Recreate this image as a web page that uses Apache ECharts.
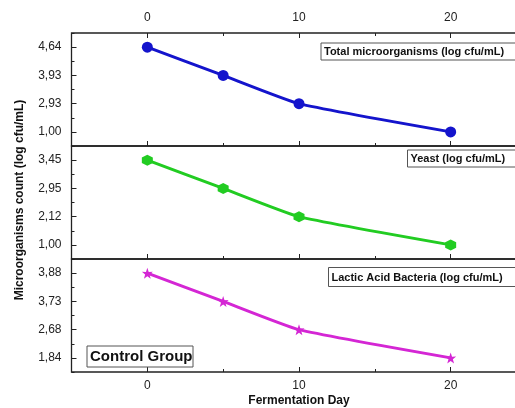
<!DOCTYPE html>
<html>
<head>
<meta charset="utf-8">
<script src="https://cdn.jsdelivr.net/npm/echarts@6/dist/echarts.min.js"></script>
<style>
  html, body { margin: 0; padding: 0; background: #fff; overflow: hidden; }
  #chart { width: 540px; height: 408px; }
</style>
</head>
<body>
<div id="chart"></div>
<script>
// Fermentation days at which counts were taken
const days = [0, 5, 10, 20];
// Counts (log cfu/mL) for each group of microorganisms
const totalCounts = [4.64, 3.93, 2.93, 1.00];
const yeastCounts = [3.45, 2.95, 2.12, 1.00];
const labCounts = [3.88, 3.73, 2.68, 1.84];
// Tick labels
const xTicks = [0, 10, 20];
const xMinorTicks = [5, 15];
const totalTicks = ['1,00', '2,93', '3,93', '4,64'];
const yeastTicks = ['1,00', '2,12', '2,95', '3,45'];
const labTicks = ['1,84', '2,68', '3,73', '3,88'];

const FONT = 'Liberation Sans, Arial, sans-serif';
const fmt = v => v.toFixed(2).replace('.', ',');

const chart = echarts.init(document.getElementById('chart'), null, { renderer: 'canvas' });

const gridLeft = 71.5, gridWidth = 455;
const grids = [
  { left: gridLeft, width: gridWidth, top: 33, height: 113 },
  { left: gridLeft, width: gridWidth, top: 146, height: 113 },
  { left: gridLeft, width: gridWidth, top: 259, height: 113 }
].map(g => Object.assign(g, { show: true, borderColor: '#222', borderWidth: 1.3, backgroundColor: 'transparent' }));

function xMajor(gridIndex, position, labels) {
  return {
    type: 'value', gridIndex, position, min: -5, max: 25,
    axisLine: { show: false, onZero: false },
    splitLine: { show: false },
    axisTick: { show: true, inside: true, length: 5, customValues: xTicks, lineStyle: { color: '#222', width: 1 } },
    axisLabel: { show: labels, customValues: xTicks, fontSize: 12, fontFamily: FONT, color: '#222', margin: position === 'top' ? 9 : 8 }
  };
}
function xMinor(gridIndex, position) {
  return {
    type: 'value', gridIndex, position, min: -5, max: 25,
    axisLine: { show: false, onZero: false }, splitLine: { show: false },
    axisTick: { show: true, inside: true, length: 3, customValues: xMinorTicks, lineStyle: { color: '#222', width: 1 } },
    axisLabel: { show: false }
  };
}
function yMajor(gridIndex, ticks) {
  return {
    type: 'category', gridIndex, position: 'left', data: ticks, boundaryGap: true,
    axisLine: { show: false, onZero: false }, splitLine: { show: false },
    axisTick: { show: true, inside: true, length: 5, alignWithLabel: true, lineStyle: { color: '#222', width: 1 } },
    axisLabel: { fontSize: 12, fontFamily: FONT, color: '#222', margin: 10 }
  };
}
function yMinor(gridIndex, ticks) {
  return {
    type: 'category', gridIndex, position: 'left', data: ticks, boundaryGap: true,
    axisLine: { show: false, onZero: false }, splitLine: { show: false },
    axisTick: { show: true, inside: true, length: 3, lineStyle: { color: '#222', width: 1 } },
    axisLabel: { show: false }
  };
}

const xAxes = [
  xMajor(0, 'bottom', false),   // 0
  xMajor(1, 'bottom', false),   // 1
  xMajor(2, 'bottom', true),    // 2
  xMajor(0, 'top', true),       // 3
  xMinor(0, 'bottom'),
  xMinor(1, 'bottom'),
  xMinor(2, 'bottom'),
  xMinor(0, 'top')
];
const yAxes = [
  yMajor(0, totalTicks),
  yMajor(1, yeastTicks),
  yMajor(2, labTicks),
  yMinor(0, totalTicks),
  yMinor(1, yeastTicks),
  yMinor(2, labTicks)
];

const hexagon = 'path://M50,0 L93.3,25 L93.3,75 L50,100 L6.7,75 L6.7,25 Z';
const star = 'path://M50,0 L61.8,35.3 L97.6,34.5 L69,56.2 L79.4,90.5 L50,70 L20.6,90.5 L31,56.2 L2.4,34.5 L38.2,35.3 Z';

function lineSeries(name, values, axisIndex, color, symbol, size) {
  return {
    name, type: 'line', xAxisIndex: axisIndex, yAxisIndex: axisIndex,
    data: days.map((d, i) => [d, fmt(values[i])]),
    smooth: 0.15,
    symbol, symbolSize: size, showSymbol: true,
    lineStyle: { color, width: 3 },
    itemStyle: { color, borderWidth: 0 },
    z: 5, silent: true
  };
}

const labelBox = (x, y, w, h, text, size) => ([
  { type: 'rect', z: 100, shape: { x, y, width: w, height: h },
    style: { fill: '#fff', stroke: '#555', lineWidth: 1 } },
  { type: 'text', z: 101, x: x + 3, y: y + h / 2 + 0.5,
    style: { text, fontSize: size, fontWeight: 'bold', fontFamily: FONT, fill: '#111', verticalAlign: 'middle', align: 'left' } }
]);

chart.setOption({
  animation: false,
  grid: grids,
  xAxis: xAxes,
  yAxis: yAxes,
  series: [
    lineSeries('Total microorganisms', totalCounts, 0, '#1414cc', 'circle', 11),
    lineSeries('Yeast', yeastCounts, 1, '#22cc22', hexagon, 11),
    lineSeries('Lactic Acid Bacteria', labCounts, 2, '#d426d4', star, 11)
  ],
  graphic: [
    ...labelBox(321, 43, 200, 17, 'Total microorganisms (log cfu/mL)', 11),
    ...labelBox(407.5, 150, 120, 17, 'Yeast (log cfu/mL)', 11),
    ...labelBox(328.5, 267.5, 200, 19, 'Lactic Acid Bacteria (log cfu/mL)', 11),
    ...labelBox(87, 346, 106, 21, 'Control Group', 15),
    { type: 'text', z: 101, x: 20, y: 200, rotation: Math.PI / 2,
      style: { text: 'Microorganisms count (log cfu/mL)', fontSize: 12, fontWeight: 'bold', fontFamily: FONT, fill: '#111', align: 'center', verticalAlign: 'middle' } },
    { type: 'text', z: 101, x: 299, y: 401,
      style: { text: 'Fermentation Day', fontSize: 12, fontWeight: 'bold', fontFamily: FONT, fill: '#111', align: 'center', verticalAlign: 'middle' } }
  ]
});
</script>
</body>
</html>
